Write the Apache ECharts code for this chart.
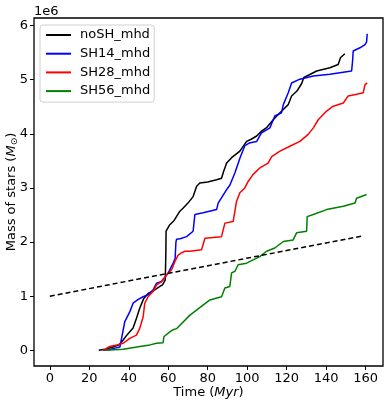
<!DOCTYPE html>
<html>
<head>
<meta charset="UTF-8">
<script src="https://cdn.jsdelivr.net/npm/echarts@6/dist/echarts.min.js"></script>
<style>
  body { margin: 0; background: #fff; }
  #main { width: 387px; height: 402px; }
</style>
</head>
<body>
<div id="main"></div>
<script>
// time in Myr, mass in units of 1e6 Msun
const noshT = [24.8, 28, 32, 35, 37.2, 39, 42.2, 44, 45.6, 47.5, 49.8, 52.4, 55.8, 57.1, 58.5, 58.8, 58.9, 60.8, 63, 65.9, 67.6, 70, 72.6, 74.4, 76.0, 80, 84.5, 87.0, 88, 89.6, 92.1, 96.3, 99.7, 102, 104.8, 107.3, 110, 113.2, 116.6, 120.8, 122.5, 125.2, 127.6, 128.7, 132, 135.2, 141.9, 146.1, 147.3, 149.5];
const noshM = [0, 0.02, 0.06, 0.1, 0.19, 0.28, 0.41, 0.6, 0.78, 0.95, 1.05, 1.1, 1.18, 1.21, 1.3, 1.8, 2.2, 2.32, 2.4, 2.57, 2.63, 2.72, 2.84, 3.03, 3.09, 3.11, 3.15, 3.18, 3.3, 3.46, 3.56, 3.68, 3.86, 3.9, 3.96, 4.05, 4.12, 4.26, 4.39, 4.54, 4.70, 4.79, 4.93, 5.04, 5.1, 5.16, 5.22, 5.28, 5.41, 5.48];

const sh14T = [27, 30, 33, 35.5, 36.3, 37.2, 38.0, 40.5, 42.2, 44.8, 47.3, 50, 52.4, 54.1, 56.6, 58, 60, 62.5, 63.5, 63.9, 64.2, 66, 69.3, 72.6, 73.5, 77.7, 84.5, 85.3, 87.5, 89.6, 91.2, 93.8, 96.3, 98.8, 101, 104.8, 107.3, 111.5, 114, 117.4, 118.3, 120.8, 122.5, 126.7, 133.5, 141.9, 152.9, 153.4, 153.7, 157.1, 159.7, 160.5, 160.8];
const sh14M = [0, 0.01, 0.04, 0.06, 0.07, 0.38, 0.53, 0.71, 0.87, 0.94, 0.99, 1.03, 1.12, 1.24, 1.27, 1.33, 1.43, 1.61, 1.7, 2.0, 2.05, 2.06, 2.10, 2.20, 2.51, 2.54, 2.60, 2.72, 2.85, 2.97, 3.05, 3.28, 3.55, 3.78, 3.83, 3.86, 4.02, 4.11, 4.33, 4.39, 4.54, 4.76, 4.94, 5.01, 5.07, 5.10, 5.16, 5.35, 5.53, 5.59, 5.65, 5.7, 5.85];

const sh28T = [27, 30.4, 34, 37.2, 40.5, 43.9, 45.6, 47.3, 48.1, 49.8, 52.4, 54.1, 56.6, 59.1, 61.7, 63.4, 64.2, 65.0, 66.7, 68.4, 71.0, 76.9, 78.6, 87.0, 88.7, 92.9, 94.6, 96.3, 98.8, 100.5, 103.0, 106.4, 110.6, 112.4, 116.6, 121.6, 126.7, 130.9, 133.5, 136.0, 140.2, 143.6, 148.7, 151.2, 155.4, 158.8, 159.7, 160.8];
const sh28M = [0, 0.07, 0.1, 0.13, 0.22, 0.28, 0.41, 0.62, 0.87, 0.99, 1.09, 1.21, 1.27, 1.39, 1.49, 1.64, 1.67, 1.76, 1.80, 1.83, 1.83, 1.86, 2.07, 2.10, 2.35, 2.38, 2.75, 2.91, 3.0, 3.12, 3.25, 3.37, 3.46, 3.58, 3.68, 3.77, 3.86, 3.99, 4.11, 4.26, 4.42, 4.51, 4.57, 4.70, 4.73, 4.76, 4.91, 4.94];

const sh56T = [28, 37.2, 45.6, 50.7, 54.1, 57.4, 57.8, 58.3, 60.8, 62.5, 64.2, 71, 81.1, 87.0, 88.7, 91.2, 92.1, 93.8, 95.4, 99.7, 103, 106.4, 109.8, 114, 118.3, 123.3, 125, 130.1, 130.4, 133.5, 140.2, 148.7, 154.6, 155.4, 160.5];
const sh56M = [0, 0.02, 0.07, 0.10, 0.13, 0.14, 0.25, 0.28, 0.34, 0.38, 0.40, 0.65, 0.93, 0.99, 1.15, 1.18, 1.43, 1.46, 1.58, 1.61, 1.67, 1.73, 1.83, 1.89, 2.01, 2.04, 2.17, 2.20, 2.47, 2.51, 2.60, 2.66, 2.72, 2.81, 2.88];

const refT = [0, 158];
const refM = [1.0, 2.11];

const xTicks = [0, 20, 40, 60, 80, 100, 120, 140, 160];
const yTicks = [0, 1, 2, 3, 4, 5, 6];

function pairs(t, m) {
    return t.map((v, i) => [v, m[i]]);
}

const chart = echarts.init(document.getElementById('main'));
const font = 'DejaVu Sans';

const option = {
    animation: false,
    textStyle: { fontFamily: font },
    grid: {
        left: 34, top: 18, right: 4, bottom: 36,
        outerBoundsMode: 'none',
        containLabel: false,
        show: true, borderColor: '#000', borderWidth: 1.3
    },
    legend: {
        orient: 'vertical',
        left: 40, top: 25,
        padding: [2, 4, 3, 6],
        itemGap: 2.7,
        itemWidth: 25,
        itemHeight: 2,
        icon: 'rect',
        backgroundColor: '#fff',
        borderColor: '#d0d0d0',
        borderWidth: 1,
        borderRadius: 3,
        textStyle: { fontFamily: font, fontSize: 13, color: '#000', lineHeight: 16, padding: [0, 0, 0, 4] },
        data: ['noSH_mhd', 'SH14_mhd', 'SH28_mhd', 'SH56_mhd']
    },
    graphic: [{
        type: 'text', left: 34, top: 5,
        style: { text: '1e6', font: '13px "DejaVu Sans"', fill: '#000' }
    }],
    xAxis: {
        type: 'value',
        min: -8, max: 168.8,
        name: 'Time ({i|Myr})',
        nameLocation: 'middle',
        nameGap: 20,
        nameMoveOverlap: false,
        nameTextStyle: {
            fontFamily: font, fontSize: 13, color: '#000',
            rich: { i: { fontFamily: font, fontSize: 13, fontStyle: 'italic', color: '#000' } }
        },
        axisLine: { show: false, onZero: false },
        splitLine: { show: false },
        axisTick: { show: true, length: 4, customValues: xTicks, lineStyle: { color: '#000' } },
        axisLabel: { customValues: xTicks, margin: 6, fontSize: 13, color: '#000', fontFamily: font }
    },
    yAxis: {
        type: 'value',
        min: -0.29, max: 6.14,
        name: 'Mass of stars ({i|M}{s|⊙})',
        nameLocation: 'middle',
        nameRotate: 90,
        nameGap: 15,
        nameMoveOverlap: false,
        nameTextStyle: {
            fontFamily: font, fontSize: 13, color: '#000',
            rich: {
                i: { fontFamily: font, fontSize: 13, fontStyle: 'italic', color: '#000' },
                s: { fontFamily: font, fontSize: 9, color: '#000', verticalAlign: 'bottom', padding: [5, 0, 0, 0] }
            }
        },
        axisLine: { show: false, onZero: false },
        splitLine: { show: false },
        axisTick: { show: true, length: 4, customValues: yTicks, lineStyle: { color: '#000' } },
        axisLabel: { customValues: yTicks, margin: 6, fontSize: 13, color: '#000', fontFamily: font }
    },
    series: [
        { name: 'noSH_mhd', type: 'line', data: pairs(noshT, noshM), showSymbol: false, color: '#000000', lineStyle: { width: 1.5 } },
        { name: 'SH14_mhd', type: 'line', data: pairs(sh14T, sh14M), showSymbol: false, color: '#0000ff', lineStyle: { width: 1.5 } },
        { name: 'SH28_mhd', type: 'line', data: pairs(sh28T, sh28M), showSymbol: false, color: '#ff0000', lineStyle: { width: 1.5 } },
        { name: 'SH56_mhd', type: 'line', data: pairs(sh56T, sh56M), showSymbol: false, color: '#008000', lineStyle: { width: 1.5 } },
        { name: 'ref', type: 'line', data: pairs(refT, refM), showSymbol: false, color: '#000000', lineStyle: { width: 1.5, type: [5, 3] } }
    ]
};
chart.setOption(option);
</script>
</body>
</html>
